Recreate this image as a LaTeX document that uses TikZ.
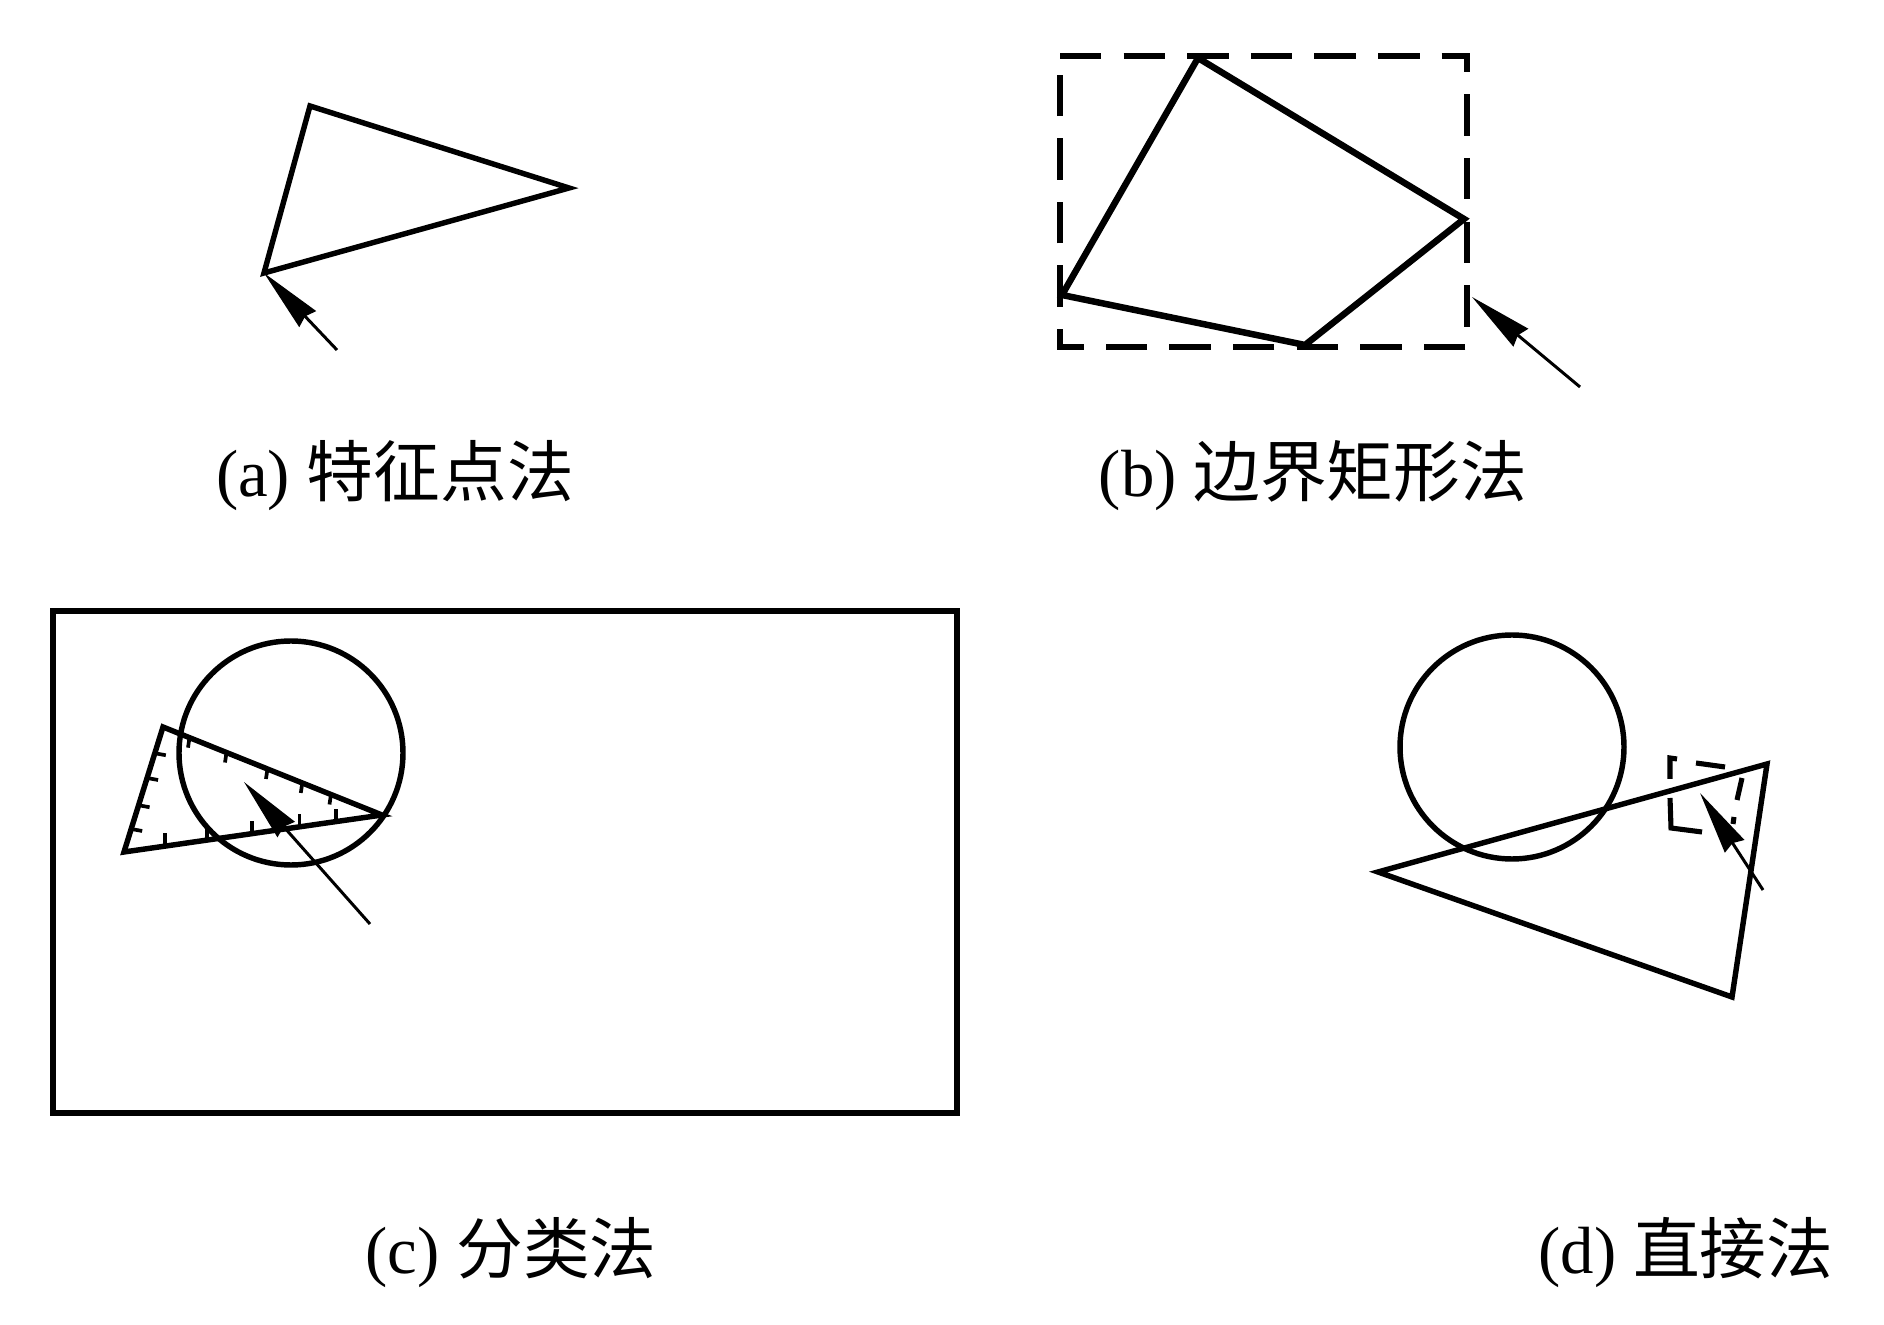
\documentclass[tikz,border=0pt]{standalone}
\usepackage{fontspec}
\setmainfont{Liberation Serif}
\newfontfamily\cjk{Noto Sans CJK SC}
\usetikzlibrary{arrows.meta,calc}
\begin{document}
\begin{tikzpicture}[x=0.1mm,y=-0.1mm,
  outl/.style={line width=1.55pt, line join=miter},
  thickoutl/.style={line width=1.85pt, line join=miter},
  ptr/.style={line width=0.85pt, -{Stealth[length=18pt,width=6.5pt,inset=1pt]}},
  bboxdash/.style={line width=1.55pt, dash pattern=on 11.8pt off 6.3pt},
  smalldash/.style={line width=1.45pt, line join=miter},
  hatch/.style={line width=1.05pt},
  lbl/.style={font=\fontsize{19}{23}\selectfont, inner sep=0pt, anchor=base}]
\useasboundingbox (0,0) rectangle (1884,1325);
% ---------- (a) ----------
\coordinate (aA) at (310,106);
\coordinate (aB) at (569,188);
\coordinate (aC) at (264,273);
\coordinate (aT) at (337,350);
\draw[outl] (aA) -- (aB) -- (aC) -- cycle;
\draw[ptr] (aT) -- (aC);
\node[lbl] (la) at (395,497) {(a) {\cjk 特征点法}};
% ---------- (b) ----------
\coordinate (bTL) at (1060,56);
\coordinate (bTR) at (1467,56);
\coordinate (bBR) at (1467,347);
\coordinate (bBL) at (1060,347);
\draw[bboxdash] (bTL) -- (bTR) -- (bBR) -- (bBL) -- cycle;
\coordinate (pT) at (1198,58);
\coordinate (pR) at (1464,219);
\coordinate (pB) at (1305,345);
\coordinate (pL) at (1062,295);
\draw[thickoutl] (pT) -- (pR) -- (pB) -- (pL) -- cycle;
\coordinate (bTip) at (1472,297);
\coordinate (bTail) at (1580,387);
\draw[ptr] (bTail) -- (bTip);
\node[lbl] (lb) at (1313,497) {(b) {\cjk 边界矩形法}};
% ---------- (c) ----------
\coordinate (cR1) at (53,611);
\coordinate (cR2) at (957,1113);
\draw[thickoutl] (cR1) rectangle (cR2);
\coordinate (cO) at (291,753);
\draw[outl] (cO) circle[radius=11.2mm];
\coordinate (cA) at (163,727);
\coordinate (cB) at (124,852);
\coordinate (cC) at (382,815);
\draw[outl] (cA) -- (cC) -- (cB) -- cycle;
% hatch ticks on top edge (pointing down)
\foreach \t in {0.121,0.29,0.477,0.636,0.767}
  \draw[hatch] ($(cA)!\t!(cC)$) -- ++(-1.5,10);
% hatch ticks on bottom edge (pointing up)
\foreach \t in {0.16,0.322,0.495,0.68,0.822}
  \draw[hatch] ($(cB)!\t!(cC)$) -- ++(0,-13);
% hatch ticks on left edge (pointing right)
\foreach \t in {0.184,0.374,0.592,0.79}
  \draw[hatch] ($(cB)!\t!(cA)$) -- ++(11,2);
\coordinate (cTip) at (244,782);
\coordinate (cTail) at (370,924);
\draw[ptr] (cTail) -- (cTip);
\node[lbl] (lc) at (511,1273) {(c) {\cjk 分类法}};
% ---------- (d) ----------
\coordinate (dO) at (1512,747);
\draw[outl] (dO) circle[radius=11.2mm];
\coordinate (dA) at (1378,872);
\coordinate (dB) at (1767,764);
\coordinate (dC) at (1732,997);
\draw[outl] (dA) -- (dB) -- (dC) -- cycle;
% small dashed window
\draw[smalldash] (1670,779) -- (1670,758) -- (1677,759);
\draw[smalldash] (1696,763) -- (1725,767);
\draw[smalldash] (1742,778) -- (1737,800);
\draw[smalldash] (1734,817) -- (1733,824);
\draw[smalldash] (1670,798) -- (1671,828) -- (1702,832);
\coordinate (dTip) at (1700,793);
\coordinate (dTail) at (1763,890);
\draw[ptr] (dTail) -- (dTip);
\node[lbl] (ld) at (1686,1273) {(d) {\cjk 直接法}};
\end{tikzpicture}
\end{document}
